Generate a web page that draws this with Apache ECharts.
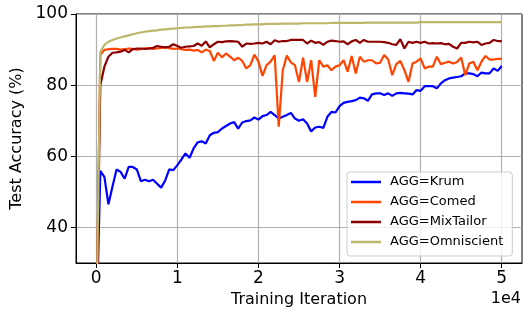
<!DOCTYPE html>
<html>
<head>
<meta charset="utf-8">
<script src="https://cdn.jsdelivr.net/npm/echarts@6/dist/echarts.min.js"></script>
<style>
  html, body { margin: 0; padding: 0; background: #fff; }
  #chart { width: 523px; height: 314px; }
</style>
</head>
<body>
<div id="chart"></div>
<script>
  const iterations = [
    0, 500, 1000, 1500, 2000, 2500, 3000, 3500, 4000, 4500,
    5000, 5500, 6000, 6500, 7000, 7500, 8000, 8500, 9000, 9500,
    10000, 10500, 11000, 11500, 12000, 12500, 13000, 13500, 14000, 14500,
    15000, 15500, 16000, 16500, 17000, 17500, 18000, 18500, 19000, 19500,
    20000, 20500, 21000, 21500, 22000, 22500, 23000, 23500, 24000, 24500,
    25000, 25500, 26000, 26500, 27000, 27500, 28000, 28500, 29000, 29500,
    30000, 30500, 31000, 31500, 32000, 32500, 33000, 33500, 34000, 34500,
    35000, 35500, 36000, 36500, 37000, 37500, 38000, 38500, 39000, 39500,
    40000, 40500, 41000, 41500, 42000, 42500, 43000, 43500, 44000, 44500,
    45000, 45500, 46000, 46500, 47000, 47500, 48000, 48500, 49000, 49500,
    50000
  ];

  const krum = [
    10, 55.9, 54.2, 46.5, 51.5, 56.3, 55.6, 53.7, 57.0, 57.0,
    56.3, 53.0, 53.4, 53.0, 53.4, 52.3, 51.2, 53.2, 56.3, 56.1,
    57.5, 59.1, 60.8, 59.6, 62.2, 63.9, 64.2, 63.6, 65.9, 66.6,
    66.8, 67.8, 68.5, 69.2, 69.6, 67.8, 69.5, 69.9, 70.1, 70.9,
    70.3, 71.3, 71.6, 72.5, 71.6, 70.6, 71.1, 71.6, 72.2, 70.6,
    70.0, 70.4, 69.2, 67.0, 68.1, 68.3, 68.0, 71.1, 72.5, 72.3,
    74.1, 75.0, 75.3, 75.5, 75.8, 76.5, 76.3, 75.6, 77.4, 77.7,
    77.7, 77.2, 77.7, 77.0, 77.7, 77.8, 77.7, 77.6, 77.4, 78.6,
    78.4, 79.7, 79.7, 79.7, 79.1, 80.5, 81.4, 81.9, 82.1, 82.3,
    82.5, 83.3, 83.3, 83.1, 82.5, 83.5, 83.3, 83.3, 84.7, 84.0,
    85.4
  ];

  const comed = [
    10, 88.5, 89.9, 90.1, 90.2, 90.2, 90.0, 90.1, 90.3, 90.2,
    90.0, 90.1, 90.3, 90.4, 90.2, 90.3, 90.5, 90.6, 90.4, 90.2,
    90.3, 90.1, 89.9, 90.0, 89.7, 89.9, 89.2, 90.0, 89.6, 86.8,
    89.1, 87.8, 88.9, 88.0, 87.0, 87.7, 86.8, 84.7, 85.6, 88.6,
    86.6, 82.6, 85.6, 86.6, 88.4, 68.3, 84.2, 88.3, 86.4, 85.6,
    80.9, 87.7, 80.9, 87.0, 76.7, 87.0, 85.2, 85.6, 84.2, 85.2,
    85.6, 87.0, 83.8, 88.2, 83.3, 88.0, 86.6, 87.0, 87.0, 86.1,
    86.3, 88.5, 87.2, 82.8, 85.9, 86.8, 84.2, 80.9, 86.1, 86.6,
    87.5, 84.7, 85.2, 85.2, 88.0, 85.9, 86.3, 86.6, 86.1, 86.5,
    87.8, 82.8, 86.1, 86.6, 84.2, 86.6, 88.2, 87.2, 87.2, 87.4,
    87.4
  ];

  const mixTailor = [
    10, 80.0, 85.2, 88.0, 89.1, 89.2, 89.4, 89.9, 89.2, 90.1,
    90.3, 90.3, 90.2, 90.3, 90.5, 91.0, 90.8, 90.6, 90.8, 91.5,
    91.0, 90.5, 90.8, 90.9, 91.0, 91.7, 91.1, 92.3, 90.6, 91.5,
    92.2, 92.1, 92.3, 92.4, 92.3, 92.2, 90.8, 91.7, 91.6, 91.7,
    91.9, 91.7, 92.2, 91.5, 92.6, 92.2, 92.4, 92.4, 92.7, 92.7,
    92.7, 92.7, 91.7, 92.5, 91.9, 92.1, 91.3, 92.2, 92.5, 92.4,
    92.2, 92.3, 91.5, 92.3, 92.7, 91.9, 92.7, 92.2, 92.2, 92.2,
    92.2, 92.1, 91.9, 91.5, 91.3, 92.9, 90.3, 92.2, 91.9, 92.2,
    91.9, 92.2, 91.7, 91.8, 91.7, 91.8, 91.5, 91.6, 90.8, 90.3,
    91.9, 91.9, 92.2, 92.0, 92.2, 91.3, 91.7, 91.9, 92.7, 92.4,
    92.4
  ];

  const omniscient = [
    10, 89.4, 91.3, 92.2, 92.7, 93.1, 93.4, 93.7, 94.0, 94.3,
    94.6, 94.8, 95.0, 95.2, 95.3, 95.4, 95.6, 95.7, 95.8, 95.9,
    96.0, 96.1, 96.2, 96.2, 96.3, 96.4, 96.4, 96.5, 96.5, 96.6,
    96.6, 96.7, 96.7, 96.8, 96.8, 96.9, 96.9, 97.0, 97.0, 97.1,
    97.1, 97.1, 97.2, 97.2, 97.2, 97.2, 97.3, 97.3, 97.3, 97.3,
    97.3, 97.4, 97.4, 97.4, 97.4, 97.4, 97.4, 97.4, 97.5, 97.5,
    97.5, 97.5, 97.5, 97.5, 97.5, 97.5, 97.5, 97.6, 97.6, 97.6,
    97.6, 97.6, 97.6, 97.6, 97.6, 97.6, 97.6, 97.6, 97.6, 97.6,
    97.7, 97.7, 97.7, 97.7, 97.7, 97.7, 97.7, 97.7, 97.7, 97.7,
    97.7, 97.7, 97.7, 97.7, 97.7, 97.7, 97.7, 97.7, 97.7, 97.7,
    97.7
  ];

  const xTicks = [0, 10000, 20000, 30000, 40000, 50000];
  const yTicks = [40, 60, 80, 100];

  const seriesNames = ['AGG=Krum', 'AGG=Comed', 'AGG=MixTailor', 'AGG=Omniscient'];
  const seriesData = [krum, comed, mixTailor, omniscient];
  const colors = ['#0000ff', '#ff4500', '#8b0000', '#bdb76b'];

  const font = 'DejaVu Sans';

  const chart = echarts.init(document.getElementById('chart'), null, { renderer: 'canvas' });

  const option = {
    animation: false,
    textStyle: { fontFamily: font },
    grid: {
      left: 76, right: 1, top: 14, bottom: 51,
      show: true, borderColor: '#000', borderWidth: 1
    },
    legend: {
      data: seriesNames,
      orient: 'vertical',
      left: 347,
      top: 172,
      padding: [3, 9, 7, 4],
      icon: 'rect',
      itemWidth: 30,
      itemHeight: 2.5,
      itemGap: 6,
      backgroundColor: 'rgba(255,255,255,0.8)',
      borderColor: '#cccccc',
      borderWidth: 1,
      borderRadius: 3,
      textStyle: { fontFamily: font, fontSize: 13, color: '#000', padding: [0, 0, 0, 4], lineHeight: 14 }
    },
    xAxis: {
      type: 'value',
      min: -2500,
      max: 52500,
      name: 'Training Iteration',
      nameLocation: 'middle',
      nameGap: 27,
      nameTextStyle: { fontFamily: font, fontSize: 16, color: '#000' },
      axisLine: { show: true, onZero: false, lineStyle: { color: '#000', width: 1 } },
      axisTick: { show: true, length: 5, customValues: xTicks, lineStyle: { color: '#000' } },
      axisLabel: {
        customValues: xTicks,
        fontFamily: font, fontSize: 17, color: '#000', margin: 7,
        formatter: v => String(v / 10000)
      },
      splitLine: { show: true, lineStyle: { color: '#b0b0b0', width: 1.2 } }
    },
    yAxis: {
      type: 'value',
      min: 30,
      max: 100,
      name: 'Test Accuracy (%)',
      nameLocation: 'middle',
      nameGap: 46,
      nameTextStyle: { fontFamily: font, fontSize: 16, color: '#000' },
      axisLine: { show: true, onZero: false, lineStyle: { color: '#000', width: 1 } },
      axisTick: { show: true, length: 5, customValues: yTicks, lineStyle: { color: '#000' } },
      axisLabel: { customValues: yTicks, fontFamily: font, fontSize: 17, color: '#000', margin: 8 },
      splitLine: { show: true, lineStyle: { color: '#b0b0b0', width: 1.2 } }
    },
    graphic: [{
      type: 'text',
      right: 2,
      top: 291,
      style: { text: '1e4', fontFamily: font, fontSize: 16, fill: '#000' }
    }],
    series: seriesNames.map((name, k) => ({
      name: name,
      type: 'line',
      symbol: 'none',
      clip: true,
      color: colors[k],
      lineStyle: { color: colors[k], width: 2.2 },
      data: iterations.map((x, i) => [x, seriesData[k][i]])
    }))
  };

  chart.setOption(option);
</script>
</body>
</html>
